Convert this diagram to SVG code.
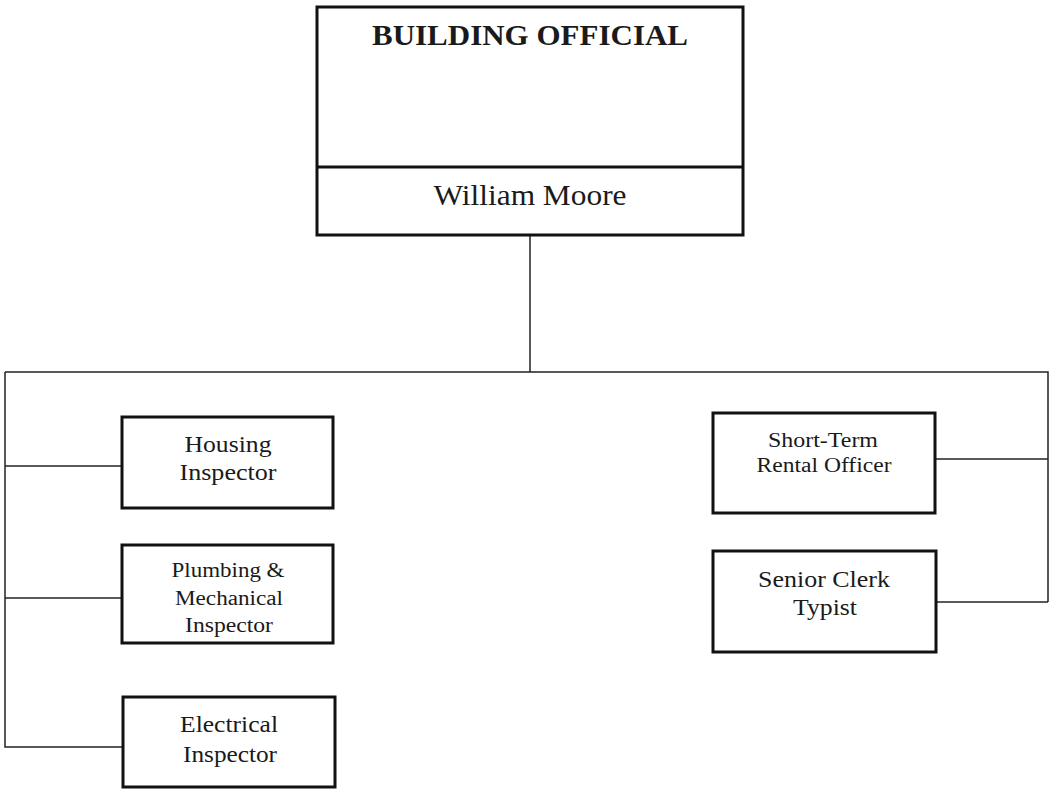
<svg xmlns="http://www.w3.org/2000/svg" width="1050" height="790" viewBox="0 0 1050 790">
<style>
.box{fill:#fff;stroke:#111;stroke-width:3}
.ln{fill:none;stroke:#222;stroke-width:1.5}
text{font-family:"Liberation Serif","Times New Roman",serif;fill:#1a1a1a;text-anchor:middle}
.t22{font-size:23px}
.t20{font-size:20px}
</style>
<rect width="1050" height="790" fill="#fff"/>
<g id="connectors">
<path class="ln" d="M530,235 V372"/>
<path class="ln" d="M5,372 H1048 V602"/>
<path class="ln" d="M5,372 V747 H123"/>
<path class="ln" d="M5,466 H122"/>
<path class="ln" d="M5,598 H122"/>
<path class="ln" d="M935,459 H1048"/>
<path class="ln" d="M936,602 H1048"/>
</g>
<g id="building-official">
<rect class="box" x="317" y="7" width="426" height="228"/>
<line x1="317" y1="167" x2="743" y2="167" stroke="#111" stroke-width="3"/>
<text x="530" y="45" style="font-size:29px;font-weight:bold" textLength="316" lengthAdjust="spacingAndGlyphs">BUILDING OFFICIAL</text>
<text x="530" y="205" style="font-size:29px" textLength="193" lengthAdjust="spacingAndGlyphs">William Moore</text>
</g>
<g id="housing-inspector">
<rect class="box" x="122" y="417" width="211" height="91"/>
<text class="t22" x="228" y="452" textLength="87" lengthAdjust="spacingAndGlyphs">Housing</text>
<text class="t22" x="228" y="480" textLength="97" lengthAdjust="spacingAndGlyphs">Inspector</text>
</g>
<g id="plumbing-inspector">
<rect class="box" x="122" y="545" width="211" height="98"/>
<text class="t20" x="228" y="577" textLength="113" lengthAdjust="spacingAndGlyphs">Plumbing &amp;</text>
<text class="t20" x="229" y="605" textLength="108" lengthAdjust="spacingAndGlyphs">Mechanical</text>
<text class="t20" x="229" y="632" textLength="88" lengthAdjust="spacingAndGlyphs">Inspector</text>
</g>
<g id="electrical-inspector">
<rect class="box" x="123" y="697" width="212" height="90"/>
<text class="t22" x="229" y="732" textLength="98" lengthAdjust="spacingAndGlyphs">Electrical</text>
<text class="t22" x="230" y="762" textLength="94" lengthAdjust="spacingAndGlyphs">Inspector</text>
</g>
<g id="short-term-rental-officer">
<rect class="box" x="713" y="413" width="222" height="100"/>
<text class="t20" x="823" y="447" textLength="110" lengthAdjust="spacingAndGlyphs">Short-Term</text>
<text class="t20" x="824" y="472" textLength="135" lengthAdjust="spacingAndGlyphs">Rental Officer</text>
</g>
<g id="senior-clerk-typist">
<rect class="box" x="713" y="551" width="223" height="101"/>
<text class="t22" x="824" y="587" textLength="132" lengthAdjust="spacingAndGlyphs">Senior Clerk</text>
<text class="t22" x="825" y="615" textLength="64" lengthAdjust="spacingAndGlyphs">Typist</text>
</g>
</svg>
